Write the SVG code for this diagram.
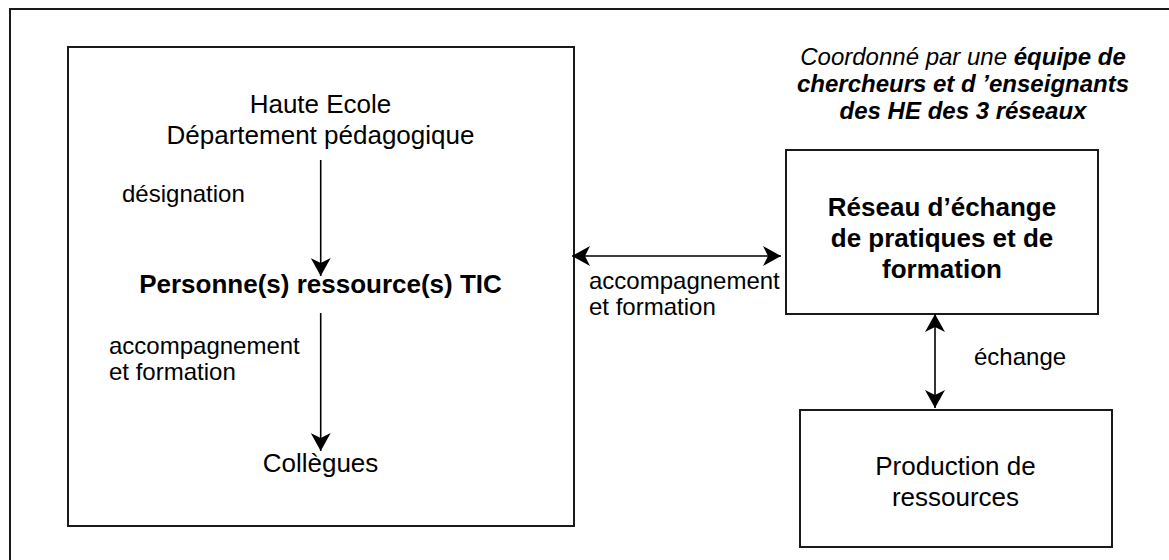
<svg xmlns="http://www.w3.org/2000/svg" width="1169" height="560" viewBox="0 0 1169 560">
<style>
.box{fill:#fff;stroke:#1a1a1a;stroke-width:2}
.t{font-family:"Liberation Sans",Arial,sans-serif;fill:#000}
.big{font-size:26px}
.lab{font-size:24px}
.b{font-weight:bold}
.c{text-anchor:middle}
.con{stroke:#000;stroke-width:1.6;fill:none}
</style>
<defs>
<marker id="ah" viewBox="0 -10 20 20" refX="19" refY="0" markerWidth="20" markerHeight="20" markerUnits="userSpaceOnUse" orient="auto-start-reverse">
<path d="M1,-10 L19,0 L1,10 L6,0 z" fill="#000"/>
</marker>
</defs>
<rect x="10" y="9" width="1200" height="600" fill="#fff" stroke="#1a1a1a" stroke-width="2"/>
<g id="node-he">
<rect class="box" x="68" y="47" width="506" height="479"/>
<text class="t big c" x="320.5" y="113">Haute Ecole</text>
<text class="t big c" x="320.5" y="144">Département pédagogique</text>
</g>
<g id="node-personne">
<text class="t big b c" x="320.5" y="293">Personne(s) ressource(s) TIC</text>
</g>
<g id="node-collegues">
<text class="t big c" x="320.5" y="472">Collègues</text>
</g>
<g id="node-coord">
<text class="t lab c" x="963" y="65" font-style="italic">Coordonné par une <tspan class="b">équipe de</tspan></text>
<text class="t lab b c" x="963" y="92" font-style="italic">chercheurs et d ’enseignants</text>
<text class="t lab b c" x="963" y="119" font-style="italic">des HE des 3 réseaux</text>
</g>
<g id="node-reseau">
<rect class="box" x="786" y="150" width="312" height="164"/>
<text class="t big b c" x="942" y="216">Réseau d’échange</text>
<text class="t big b c" x="942" y="247">de pratiques et de</text>
<text class="t big b c" x="942" y="278">formation</text>
</g>
<g id="node-production">
<rect class="box" x="800" y="410" width="312" height="137"/>
<text class="t big c" x="955.5" y="475">Production de</text>
<text class="t big c" x="955.5" y="506">ressources</text>
</g>
<g id="connectors">
<line class="con" x1="320.7" y1="160" x2="320.7" y2="276" marker-end="url(#ah)"/>
<line class="con" x1="320.7" y1="313" x2="320.7" y2="451" marker-end="url(#ah)"/>
<line class="con" x1="572" y1="256" x2="781" y2="256" marker-start="url(#ah)" marker-end="url(#ah)"/>
<line class="con" x1="935" y1="314" x2="935" y2="408" marker-start="url(#ah)" marker-end="url(#ah)"/>
<text class="t lab" x="122" y="202">désignation</text>
<text class="t lab" x="109" y="354">accompagnement</text>
<text class="t lab" x="109" y="380">et formation</text>
<text class="t lab" x="589" y="289">accompagnement</text>
<text class="t lab" x="589" y="315">et formation</text>
<text class="t lab" x="974" y="365">échange</text>
</g>
</svg>
